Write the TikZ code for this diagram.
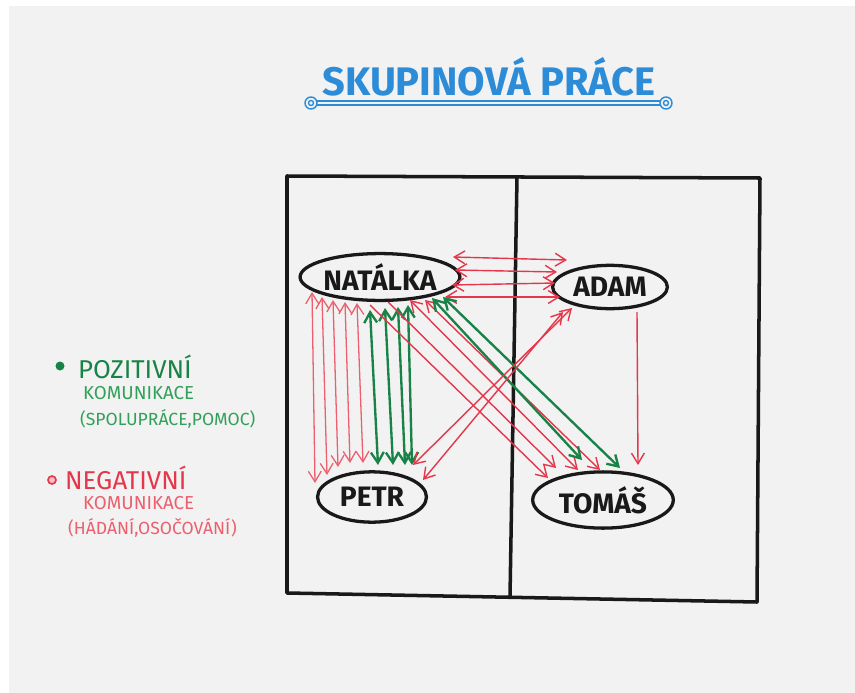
\documentclass[tikz,border=0pt]{standalone}
\usepackage{fontspec}
\setmainfont{Fira Sans}
\usetikzlibrary{shapes.geometric,arrows.meta}

\definecolor{sheetgray}{RGB}{242, 242, 242}
\definecolor{titleblue}{RGB}{45, 140, 215}
\definecolor{posgreen}{RGB}{25, 130, 70}
\definecolor{poslight}{RGB}{50, 160, 90}
\definecolor{negred}{RGB}{228, 55, 75}
\definecolor{negpink}{RGB}{235, 95, 110}
\definecolor{inkblack}{RGB}{25, 25, 25}

\tikzset{
    person/.style={ellipse, draw=inkblack, line width=2.8pt, inner sep=0pt, font=\fontsize{24}{28}\selectfont\bfseries, text=inkblack},
    barb/.tip={Straight Barb[length=9pt, width=11pt]},
    negboth/.style={draw=negred, line width=1.2pt, barb-barb},
    negone/.style={draw=negred, line width=1.2pt, -barb},
    negthin/.style={draw=negpink, line width=1.1pt, barb-barb},
    posboth/.style={draw=posgreen, line width=2pt, barb-barb},
}

\begin{document}
\begin{tikzpicture}[x=0.03cm, y=-0.03cm]
    % sheet
    \useasboundingbox (0,0) rectangle (855,693);
    \fill[white] (0,0) rectangle (855,693);
    \fill[sheetgray] (9,6) rectangle (855,693);

    % title
    \node[anchor=base, font=\fontsize{34}{40}\selectfont\bfseries, text=titleblue] (title) at (489,95) {SKUPINOVÁ PRÁCE};
    \draw[titleblue, line width=1.2pt] (317,101) -- (660,101);
    \draw[titleblue, line width=1.2pt] (317,105) -- (660,105);
    \draw[titleblue, line width=1.2pt] (311,103) circle (6) (311,103) circle (2.5);
    \draw[titleblue, line width=1.2pt] (666,103) circle (6) (666,103) circle (2.5);

    % legend
    \fill[posgreen] (60,366) circle (4.5);
    \node[anchor=west, font=\fontsize{22}{26}\selectfont, text=posgreen] (posA) at (74,367) {POZITIVNÍ};
    \node[anchor=west, font=\fontsize{16}{20}\selectfont, text=poslight] (posB) at (79,393) {KOMUNIKACE};
    \node[anchor=west, font=\fontsize{15}{18}\selectfont, text=poslight] (posC) at (76,419) {(SPOLUPRÁCE,POMOC)};
    \draw[negred, fill=negpink!40, line width=1.4pt] (52,480) circle (4);
    \node[anchor=west, font=\fontsize{22}{26}\selectfont, text=negred] (negA) at (61,478) {NEGATIVNÍ};
    \node[anchor=west, font=\fontsize{16}{20}\selectfont, text=negpink] (negB) at (79,503) {KOMUNIKACE};
    \node[anchor=west, font=\fontsize{15}{18}\selectfont, text=negpink] (negC) at (64,528) {(HÁDÁNÍ,OSOČOVÁNÍ)};

    % room with two halves
    \draw[inkblack, line width=3pt, line join=round] (287,176) -- (760,178) -- (757,602) -- (287,593) -- cycle;
    \draw[inkblack, line width=3pt] (517,177) -- (510,597);

    % people
    \node[person, minimum width=130, minimum height=40] (nat) at (380,277) {NATÁLKA};
    \node[person, minimum width=98, minimum height=37] (adam) at (610,287) {ADAM};
    \node[person, minimum width=93, minimum height=43] (petr) at (372,497) {PETR};
    \node[person, minimum width=120, minimum height=48] (tomas) at (603,500) {TOMÁŠ};

    % natalka - petr
    \foreach \a/\b/\c/\d in {-68/15/-57/-14, -58/20/-45/-22, -47/23/-34/-30, -35/25/-22/-34, -23/26/-9/-34}
        \draw[negthin] ([shift={(\a,\b)}]nat.center) -- ([shift={(\c,\d)}]petr.center);
    \foreach \a/\b/\c/\d in {-10/33/6/-32, 5/31/21/-32, 18/30/33/-32, 28/28/40/-32}
        \draw[posboth] ([shift={(\a,\b)}]nat.center) -- ([shift={(\c,\d)}]petr.center);

    % natalka - adam
    \foreach \a/\b/\c/\d in {73/-20/-43/-27, 75/-7/-53/-15, 72/8/-55/-4, 65/20/-50/10}
        \draw[negboth] ([shift={(\a,\b)}]nat.center) -- ([shift={(\c,\d)}]adam.center);

    % natalka - tomas
    \draw[negone] ([shift={(-10,28)}]nat.center) -- ([shift={(-55,-22)}]tomas.center);
    \draw[negone] ([shift={(8,25)}]nat.center) -- ([shift={(-47,-32)}]tomas.center);
    \draw[negboth] ([shift={(30,23)}]nat.center) -- ([shift={(-25,-30)}]tomas.center);
    \draw[negboth] ([shift={(45,23)}]nat.center) -- ([shift={(-3,-30)}]tomas.center);
    \draw[posboth] ([shift={(52,21)}]nat.center) -- ([shift={(-21,-40)}]tomas.center);
    \draw[posboth] ([shift={(63,20)}]nat.center) -- ([shift={(17,-32)}]tomas.center);

    % adam - petr, adam - tomas
    \draw[negboth] ([shift={(-38,21)}]adam.center) -- ([shift={(41,-32)}]petr.center);
    \draw[negboth] ([shift={(-47,25)}]adam.center) -- ([shift={(51,-17)}]petr.center);
    \draw[negone] ([shift={(27,25)}]adam.center) -- ([shift={(35,-35)}]tomas.center);
\end{tikzpicture}
\end{document}
